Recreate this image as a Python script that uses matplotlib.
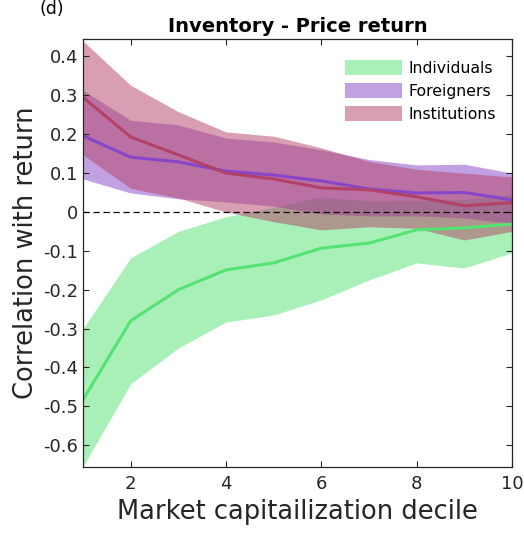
import numpy as np
import matplotlib
matplotlib.use('Agg')
import matplotlib.pyplot as plt
from matplotlib.patches import Patch

deciles = [1, 2, 3, 4, 5, 6, 7, 8, 9, 10]

# mean correlation and band (lower / upper) per group
ind_mean = [-0.483, -0.280, -0.200, -0.149, -0.131, -0.093, -0.080, -0.046, -0.041, -0.031]
ind_low = [-0.655, -0.442, -0.350, -0.283, -0.265, -0.226, -0.175, -0.131, -0.144, -0.105]
ind_up = [-0.300, -0.118, -0.050, -0.012, 0.012, 0.039, 0.028, 0.030, 0.032, 0.045]

for_mean = [0.196, 0.141, 0.129, 0.105, 0.095, 0.080, 0.059, 0.049, 0.050, 0.031]
for_low = [0.085, 0.049, 0.034, 0.026, 0.015, -0.005, -0.010, -0.010, -0.015, -0.030]
for_up = [0.313, 0.236, 0.224, 0.190, 0.180, 0.160, 0.135, 0.121, 0.123, 0.100]

ins_mean = [0.295, 0.193, 0.147, 0.100, 0.085, 0.062, 0.057, 0.039, 0.016, 0.024]
ins_low = [0.147, 0.061, 0.036, 0.000, -0.025, -0.046, -0.038, -0.042, -0.072, -0.050]
ins_up = [0.440, 0.326, 0.258, 0.206, 0.195, 0.165, 0.130, 0.110, 0.100, 0.090]

labels = ['Individuals', 'Foreigners', 'Institutions']
colors = [(0.33, 0.89, 0.45), (0.53, 0.27, 0.78), (0.70, 0.25, 0.40)]

fig = plt.figure(figsize=(5.24, 5.35), dpi=100)
ax = fig.add_axes([0.1584, 0.1271, 0.8187, 0.8])

series = [(ind_mean, ind_low, ind_up), (for_mean, for_low, for_up), (ins_mean, ins_low, ins_up)]
for (m, lo, up), col in zip(series, colors):
    ax.fill_between(deciles, lo, up, color=col, alpha=0.5, linewidth=0)
for (m, lo, up), col in zip(series, colors):
    ax.plot(deciles, m, color=col, lw=2.2)

ax.axhline(0, color='k', ls=(0, (5, 3)), lw=0.9)

ax.set_xlim(1, 10)
ax.set_ylim(-0.656, 0.445)
ax.set_xticks([2, 4, 6, 8, 10])
yt = np.round(np.arange(-0.6, 0.41, 0.1), 1)
ax.set_yticks(yt)
ax.set_yticklabels(['0' if v == 0 else '%g' % v for v in yt])
ax.tick_params(direction='in', top=True, right=True, labelsize=13,
               colors='#262626', length=4)
ax.tick_params(axis='x', pad=6)
for s in ax.spines.values():
    s.set_color('#262626')
    s.set_linewidth(0.9)

ax.set_xlabel('Market capitailization decile', fontsize=18.5, color='#262626', labelpad=4)
ax.set_ylabel('Correlation with return', fontsize=18.5, color='#262626', labelpad=3)
ax.set_title('Inventory - Price return', fontsize=14, fontweight='bold', pad=5)

handles = [Patch(facecolor=c, alpha=0.5, edgecolor='none') for c in colors]
ax.legend(handles, labels, loc='upper right', bbox_to_anchor=(0.995, 0.985),
          frameon=False, fontsize=11.3, handlelength=3.6, handleheight=1.15,
          handletextpad=0.4, labelspacing=0.45)

fig.text(0.076, 0.974, '(d)', fontsize=12.5, va='baseline')

fig.savefig('out.png', dpi=100)
